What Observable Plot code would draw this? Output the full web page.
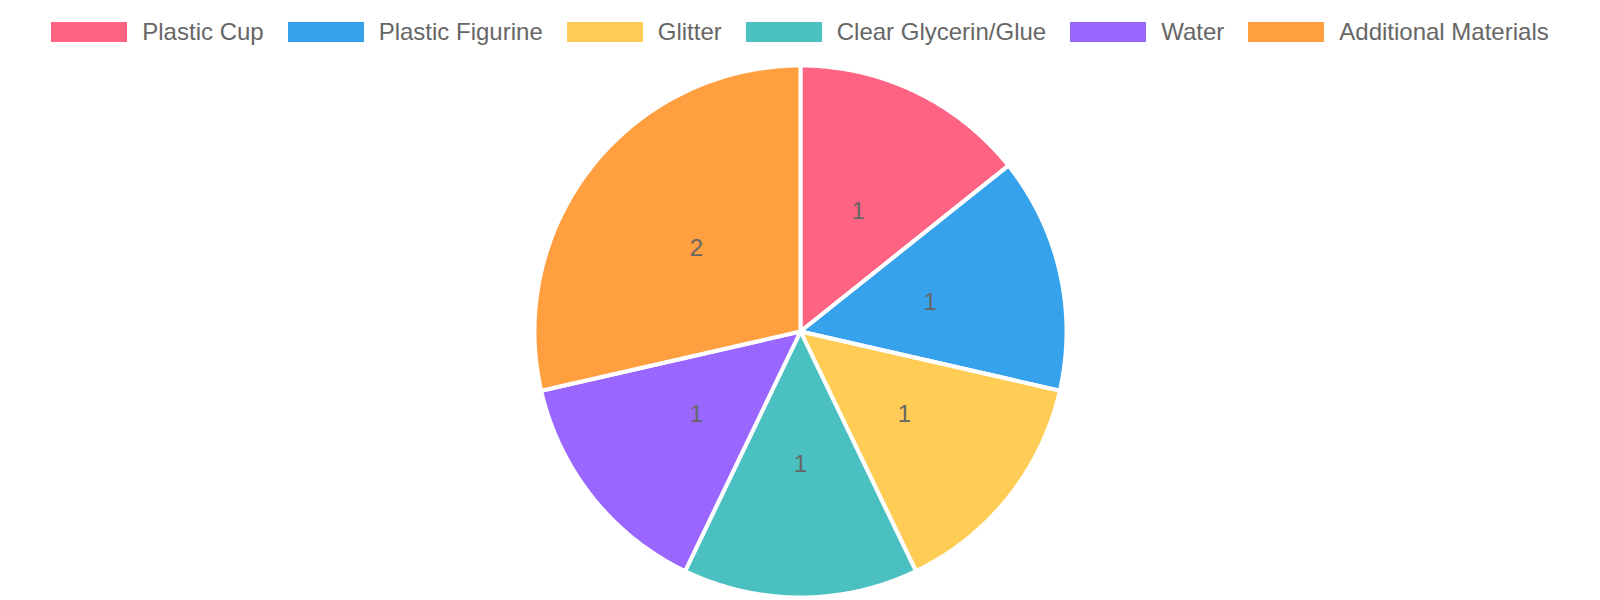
<!DOCTYPE html>
<html>
<head>
<meta charset="utf-8">
<script src="https://cdn.jsdelivr.net/npm/d3@7"></script>
<script src="https://cdn.jsdelivr.net/npm/@observablehq/plot@0.6"></script>
<style>
  html, body { margin: 0; padding: 0; overflow: hidden; background: #fff; font-family: "Liberation Sans", Arial, sans-serif; }
  #legend { height: 64px; display: flex; justify-content: center; align-items: center; }
  .item { display: flex; align-items: center; margin: 0 12px; font-size: 24px; color: #666; white-space: nowrap; }
  .sw { width: 76px; height: 20px; margin-right: 15px; }
  #chart { width: 1600px; height: 536px; overflow: hidden; }
  #chart svg { display: block; max-width: none !important; }
</style>
</head>
<body>
<div id="legend"></div>
<div id="chart"></div>
<script>
const categories = ["Plastic Cup", "Plastic Figurine", "Glitter", "Clear Glycerin/Glue", "Water", "Additional Materials"];
const values = [1, 1, 1, 1, 1, 2];
const colors = ["#ff6384", "#36a2eb", "#ffcd56", "#4bc0c0", "#9966ff", "#ff9f40"];

const W = 1600, H = 536, R = 266, CX = 800, CY = 267;

const legend = document.getElementById("legend");
categories.forEach((c, i) => {
  const it = document.createElement("div");
  it.className = "item";
  it.innerHTML = `<div class="sw" style="background:${colors[i]}"></div><span>${c}</span>`;
  legend.appendChild(it);
});

const data = categories.map((c, i) => ({category: c, value: values[i]}));
const arcs = d3.pie().sort(null).value(d => d.value)(data);

const pts = [];
arcs.forEach(a => {
  const n = 120;
  pts.push({category: a.data.category, x: 0, y: 0});
  for (let k = 0; k <= n; k++) {
    const t = a.startAngle + (a.endAngle - a.startAngle) * k / n;
    pts.push({category: a.data.category, x: R * Math.sin(t), y: R * Math.cos(t)});
  }
  pts.push({category: a.data.category, x: 0, y: 0});
});
const labels = arcs.map(a => {
  const m = (a.startAngle + a.endAngle) / 2;
  return {category: a.data.category, value: a.data.value, x: R / 2 * Math.sin(m), y: R / 2 * Math.cos(m)};
});

const chart = Plot.plot({
  width: W, height: H,
  margin: 0,
  style: {maxWidth: "none"},
  x: {domain: [-CX, W - CX], axis: null},
  y: {domain: [CY - H, CY], axis: null},
  color: {domain: categories, range: colors},
  marks: [
    Plot.line(pts, {x: "x", y: "y", z: "category", fill: "category", stroke: "white", strokeWidth: 4, strokeLinejoin: "round", curve: "linear"}),
    Plot.text(labels, {x: "x", y: "y", text: d => String(d.value), fill: "#666", fontSize: 24, fontFamily: "Liberation Sans, Arial, sans-serif"})
  ]
});
document.getElementById("chart").appendChild(chart);
</script>
</body>
</html>
